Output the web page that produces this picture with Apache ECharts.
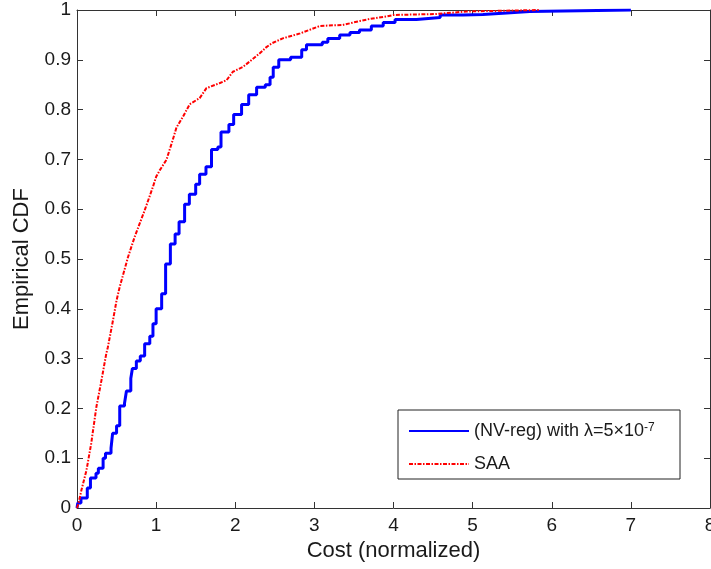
<!DOCTYPE html>
<html>
<head>
<meta charset="utf-8">
<script src="https://cdn.jsdelivr.net/npm/echarts@6/dist/echarts.min.js"></script>
<style>
  html, body { margin: 0; padding: 0; background: #fff; }
  #chart { width: 711px; height: 569px; }
</style>
</head>
<body>
<div id="chart"></div>
<script>
// Empirical CDF points: x = cost (normalized), y = cumulative fraction
const nvregX = [0, 0.01, 0.05, 0.13, 0.17, 0.24, 0.27, 0.33, 0.36, 0.43, 0.45, 0.50, 0.54, 0.60, 0.625, 0.68, 0.70, 0.75, 0.80, 0.855, 0.92, 0.96, 1.00, 1.07, 1.12, 1.18, 1.24, 1.29, 1.36, 1.42, 1.50, 1.55, 1.63, 1.70, 1.78, 1.82, 1.92, 1.98, 2.08, 2.17, 2.27, 2.38, 2.44, 2.48, 2.55, 2.70, 2.84, 2.90, 3.10, 3.17, 3.32, 3.45, 3.57, 3.72, 3.87, 4.02, 4.29, 4.59, 4.88, 5.13, 5.43, 5.72, 7.0];
const nvregY = [0, 0.01, 0.02, 0.04, 0.06, 0.07, 0.08, 0.10, 0.11, 0.12, 0.15, 0.165, 0.205, 0.21, 0.235, 0.26, 0.28, 0.295, 0.305, 0.33, 0.345, 0.37, 0.40, 0.43, 0.49, 0.53, 0.55, 0.575, 0.61, 0.63, 0.65, 0.67, 0.685, 0.72, 0.725, 0.755, 0.77, 0.79, 0.81, 0.83, 0.845, 0.85, 0.865, 0.885, 0.90, 0.905, 0.92, 0.93, 0.935, 0.943, 0.95, 0.955, 0.96, 0.968, 0.975, 0.981, 0.985, 0.99, 0.991, 0.994, 0.997, 1.0, 1.0];

// SAA steps are very fine, so its curve is traced through these points
const saaX = [0, 0.02, 0.056, 0.12, 0.18, 0.245, 0.31, 0.37, 0.39, 0.455, 0.50, 0.54, 0.645, 0.73, 0.856, 0.96, 1.0, 1.045, 1.13, 1.21, 1.257, 1.34, 1.425, 1.55, 1.636, 1.80, 1.89, 1.97, 2.10, 2.31, 2.39, 2.46, 2.60, 2.82, 3.07, 3.36, 3.55, 3.70, 3.91, 4.0, 4.54, 4.92, 5.85];
const saaY = [0, 0.01, 0.036, 0.076, 0.13, 0.203, 0.257, 0.31, 0.323, 0.377, 0.417, 0.444, 0.504, 0.545, 0.598, 0.645, 0.665, 0.678, 0.699, 0.739, 0.764, 0.786, 0.811, 0.823, 0.843, 0.853, 0.859, 0.876, 0.886, 0.913, 0.925, 0.933, 0.943, 0.953, 0.968, 0.97, 0.977, 0.982, 0.987, 0.99, 0.992, 0.997, 1.0];

const xTicks = { min: 0, max: 8, interval: 1 };
const yTicks = { min: 0, max: 1, interval: 0.1 };

const seriesNames = ['NV-reg', 'SAA'];

const pairs = (xs, ys) => xs.map((x, i) => [x, ys[i]]);

const axisColor = '#333';
const textColor = '#1a1a1a';
const fontFamily = '"Liberation Sans", Arial, Helvetica, sans-serif';

const frameAxis = {
  axisLine: { show: true, onZero: false, lineStyle: { color: axisColor, width: 1 } },
  axisTick: { show: true, inside: true, length: 6, lineStyle: { color: axisColor } },
  splitLine: { show: false }
};

const chart = echarts.init(document.getElementById('chart'), null, { renderer: 'canvas' });

chart.setOption({
  backgroundColor: '#fff',
  animation: false,
  textStyle: { fontFamily: fontFamily },
  grid: { left: 77, right: 1, top: 10, bottom: 61, containLabel: false, outerBoundsMode: 'none' },
  xAxis: [
    Object.assign({
      type: 'value', position: 'bottom',
      min: xTicks.min, max: xTicks.max, interval: xTicks.interval,
      name: 'Cost (normalized)', nameLocation: 'middle', nameGap: 31,
      nameTextStyle: { fontSize: 22, color: textColor, fontFamily: fontFamily },
      axisLabel: { fontSize: 19, color: textColor, margin: 8, fontFamily: fontFamily, showMaxLabel: true }
    }, frameAxis),
    Object.assign({
      type: 'value', position: 'top',
      min: xTicks.min, max: xTicks.max, interval: xTicks.interval,
      axisLabel: { show: false }
    }, frameAxis)
  ],
  yAxis: [
    Object.assign({
      type: 'value', position: 'left',
      min: yTicks.min, max: yTicks.max, interval: yTicks.interval,
      name: 'Empirical CDF', nameLocation: 'middle', nameGap: 44,
      nameTextStyle: { fontSize: 22, color: textColor, fontFamily: fontFamily },
      axisLabel: { fontSize: 19, color: textColor, margin: 6, fontFamily: fontFamily,
        formatter: v => String(Math.round(v * 10) / 10) }
    }, frameAxis),
    Object.assign({
      type: 'value', position: 'right',
      min: yTicks.min, max: yTicks.max, interval: yTicks.interval,
      axisLabel: { show: false }
    }, frameAxis)
  ],
  legend: {
    orient: 'vertical',
    left: 398,
    top: 410,
    padding: [12, 8, 6, 10],
    itemGap: 13,
    itemWidth: 60,
    itemHeight: 14,
    borderColor: '#222',
    borderWidth: 1,
    backgroundColor: '#fff',
    itemStyle: { opacity: 0 },
    data: seriesNames,
    formatter: name => name === 'NV-reg'
      ? '{t|(NV-reg) with λ=5×10}{s|-7}'
      : '{t|SAA}',
    textStyle: {
      fontSize: 18, color: textColor, fontFamily: fontFamily, lineHeight: 18, width: 198,
      rich: {
        t: { fontSize: 18, lineHeight: 18, color: textColor, fontFamily: fontFamily },
        s: { fontSize: 12, lineHeight: 18, verticalAlign: 'top', color: textColor, fontFamily: fontFamily, padding: [0, 0, 8, 0] }
      }
    }
  },
  series: [
    {
      name: seriesNames[0],
      type: 'line',
      step: 'end',
      xAxisIndex: 0, yAxisIndex: 0,
      data: pairs(nvregX, nvregY),
      symbol: 'none',
      lineStyle: { color: '#0000ff', width: 3 },
      itemStyle: { color: '#0000ff' },
      z: 3
    },
    {
      name: seriesNames[1],
      type: 'line',
      xAxisIndex: 0, yAxisIndex: 0,
      data: pairs(saaX, saaY),
      symbol: 'none',
      lineStyle: { color: '#ff0000', width: 2, type: [4, 1.5, 1.5, 1.5] },
      itemStyle: { color: '#ff0000' },
      z: 4
    }
  ]
});
</script>
</body>
</html>
